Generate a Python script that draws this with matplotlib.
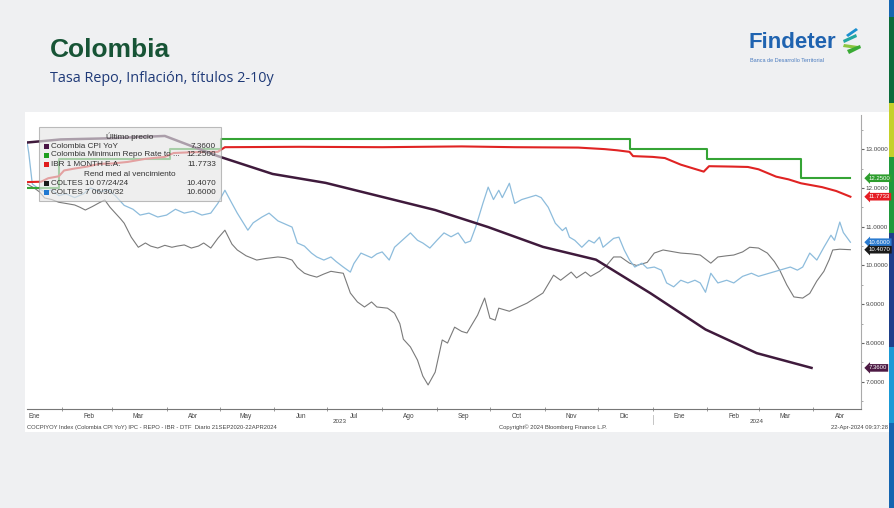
import matplotlib.pyplot as plt
import matplotlib.dates as mdates
import matplotlib.transforms as mtransforms
from matplotlib.patches import Rectangle, Polygon
from matplotlib.ticker import FuncFormatter, MultipleLocator, NullFormatter
import pandas as pd

plt.rcParams['font.family'] = ['Liberation Sans', 'DejaVu Sans']

# ---- datos ----
cpi_dates = ['2022-12-31', '2023-01-31', '2023-02-28', '2023-03-31', '2023-04-30',
             '2023-05-31', '2023-06-30', '2023-07-31', '2023-08-31', '2023-09-30',
             '2023-10-31', '2023-11-30', '2023-12-31', '2024-01-31', '2024-02-29',
             '2024-03-31']
cpi_vals = [13.12, 13.25, 13.28, 13.34, 12.82, 12.36, 12.13, 11.78, 11.43, 10.99,
            10.48, 10.15, 9.28, 8.35, 7.74, 7.36]

repo_dates = ['2023-01-12', '2023-01-30', '2023-04-03', '2023-05-02', '2023-12-19',
              '2024-02-01', '2024-03-25', '2024-04-22']
repo_vals = [12.00, 12.75, 13.00, 13.25, 13.00, 12.75, 12.25, 12.25]

ibr_dates = ['2023-01-12', '2023-01-20', '2023-01-24', '2023-01-30', '2023-02-02',
             '2023-02-08', '2023-02-15', '2023-02-22', '2023-03-01', '2023-03-10',
             '2023-03-20', '2023-03-31', '2023-04-05', '2023-04-15', '2023-04-30',
             '2023-05-04', '2023-06-15', '2023-08-01', '2023-09-15', '2023-10-15',
             '2023-11-20', '2023-12-05', '2023-12-12', '2023-12-19', '2023-12-21',
             '2024-01-01', '2024-01-08', '2024-01-17', '2024-01-30', '2024-02-02',
             '2024-02-15', '2024-02-24', '2024-03-01', '2024-03-11', '2024-03-18',
             '2024-03-25', '2024-04-06', '2024-04-14', '2024-04-22']
ibr_vals = [12.15, 12.16, 12.25, 12.30, 12.45, 12.50, 12.55, 12.62, 12.63, 12.67,
            12.75, 12.80, 12.90, 12.92, 12.93, 13.05, 13.06, 13.05, 13.07, 13.05,
            13.04, 13.00, 12.97, 12.93, 12.82, 12.80, 12.77, 12.60, 12.42, 12.56,
            12.55, 12.54, 12.48, 12.29, 12.22, 12.12, 12.02, 11.92, 11.7733]

c10_dates = ['2023-01-12', '2023-01-16', '2023-01-19', '2023-01-22', '2023-01-26',
             '2023-01-30', '2023-02-03', '2023-02-08', '2023-02-11', '2023-02-14',
             '2023-02-18', '2023-02-22', '2023-02-25', '2023-02-28', '2023-03-02',
             '2023-03-06', '2023-03-08', '2023-03-12', '2023-03-16', '2023-03-20',
             '2023-03-23', '2023-03-27', '2023-03-31', '2023-04-04', '2023-04-07',
             '2023-04-11', '2023-04-15', '2023-04-19', '2023-04-22', '2023-04-26',
             '2023-04-30', '2023-05-04', '2023-05-08', '2023-05-11', '2023-05-16',
             '2023-05-22', '2023-05-27', '2023-06-03', '2023-06-07', '2023-06-11',
             '2023-06-14', '2023-06-18', '2023-06-21', '2023-06-25', '2023-06-29',
             '2023-07-03', '2023-07-07', '2023-07-10', '2023-07-14', '2023-07-18',
             '2023-07-22', '2023-07-26', '2023-07-29', '2023-08-04', '2023-08-08',
             '2023-08-11', '2023-08-13', '2023-08-17', '2023-08-21', '2023-08-24',
             '2023-08-27', '2023-08-31', '2023-09-04', '2023-09-07', '2023-09-11',
             '2023-09-15', '2023-09-18', '2023-09-24', '2023-09-28', '2023-10-01',
             '2023-10-04', '2023-10-06', '2023-10-12', '2023-10-22', '2023-10-31',
             '2023-11-06', '2023-11-10', '2023-11-16', '2023-11-19', '2023-11-24',
             '2023-11-27', '2023-12-02', '2023-12-06', '2023-12-10', '2023-12-14',
             '2023-12-19', '2023-12-23', '2023-12-29', '2024-01-02', '2024-01-07',
             '2024-01-12', '2024-01-17', '2024-01-23', '2024-01-28', '2024-02-03',
             '2024-02-07', '2024-02-12', '2024-02-16', '2024-02-21', '2024-02-25',
             '2024-03-01', '2024-03-06', '2024-03-10', '2024-03-13', '2024-03-17',
             '2024-03-21', '2024-03-26', '2024-03-30', '2024-04-03', '2024-04-07',
             '2024-04-10', '2024-04-12', '2024-04-16', '2024-04-22']
c10_vals = [12.10, 12.00, 11.90, 11.74, 11.70, 11.63, 11.60, 11.56, 11.50, 11.43,
            11.52, 11.62, 11.69, 11.50, 11.40, 11.20, 11.09, 10.73, 10.47, 10.58,
            10.50, 10.45, 10.52, 10.47, 10.50, 10.53, 10.45, 10.50, 10.58, 10.45,
            10.70, 10.91, 10.55, 10.40, 10.25, 10.14, 10.18, 10.22, 10.20, 10.14,
            9.95, 9.80, 9.75, 9.70, 9.78, 9.85, 9.82, 9.80, 9.29, 9.06,
            8.93, 9.06, 8.93, 8.90, 8.77, 8.50, 8.10, 7.90, 7.56, 7.15,
            6.92, 7.25, 8.08, 8.00, 8.41, 8.30, 8.26, 8.72, 9.16, 8.64,
            8.59, 8.90, 8.82, 9.03, 9.29, 9.75, 9.62, 9.83, 9.68, 9.83,
            9.72, 9.85, 10.00, 10.22, 10.22, 10.06, 10.00, 10.08, 10.32, 10.40,
            10.36, 10.32, 10.30, 10.27, 10.06, 10.22, 10.25, 10.27, 10.35, 10.47,
            10.45, 10.32, 10.10, 9.88, 9.50, 9.19, 9.16, 9.28, 9.60, 9.85,
            10.15, 10.40, 10.42, 10.407]

c7_dates = ['2023-01-12', '2023-01-13', '2023-01-15', '2023-01-18', '2023-01-22',
            '2023-01-26', '2023-01-30', '2023-02-03', '2023-02-08', '2023-02-13',
            '2023-02-17', '2023-02-22', '2023-02-27', '2023-03-03', '2023-03-08',
            '2023-03-13', '2023-03-17', '2023-03-22', '2023-03-27', '2023-04-01',
            '2023-04-06', '2023-04-11', '2023-04-16', '2023-04-21', '2023-04-26',
            '2023-04-30', '2023-05-04', '2023-05-08', '2023-05-11', '2023-05-17',
            '2023-05-20', '2023-05-25', '2023-05-29', '2023-06-03', '2023-06-11',
            '2023-06-14', '2023-06-18', '2023-06-22', '2023-06-25', '2023-06-29',
            '2023-07-03', '2023-07-06', '2023-07-10', '2023-07-14', '2023-07-16',
            '2023-07-20', '2023-07-26', '2023-07-29', '2023-08-01', '2023-08-05',
            '2023-08-08', '2023-08-17', '2023-08-21', '2023-08-24', '2023-08-28',
            '2023-09-01', '2023-09-05', '2023-09-09', '2023-09-13', '2023-09-17',
            '2023-09-20', '2023-09-23', '2023-09-27', '2023-09-30', '2023-10-03',
            '2023-10-06', '2023-10-08', '2023-10-12', '2023-10-15', '2023-10-19',
            '2023-10-27', '2023-10-30', '2023-11-03', '2023-11-07', '2023-11-11',
            '2023-11-13', '2023-11-15', '2023-11-18', '2023-11-22', '2023-11-26',
            '2023-11-29', '2023-12-02', '2023-12-04', '2023-12-10', '2023-12-13',
            '2023-12-16', '2023-12-19', '2023-12-22', '2023-12-26', '2023-12-29',
            '2024-01-02', '2024-01-06', '2024-01-09', '2024-01-13', '2024-01-17',
            '2024-01-21', '2024-01-25', '2024-01-28', '2024-01-31', '2024-02-03',
            '2024-02-07', '2024-02-12', '2024-02-16', '2024-02-21', '2024-02-26',
            '2024-03-01', '2024-03-07', '2024-03-13', '2024-03-19', '2024-03-23',
            '2024-03-26', '2024-03-30', '2024-04-03', '2024-04-07', '2024-04-11',
            '2024-04-13', '2024-04-16', '2024-04-18', '2024-04-22']
c7_vals = [13.19, 12.90, 12.10, 12.00, 11.90, 11.95, 11.80, 11.85, 11.75, 11.85,
           12.00, 11.90, 11.95, 11.80, 11.55, 11.45, 11.30, 11.35, 11.25, 11.30,
           11.45, 11.35, 11.40, 11.30, 11.35, 11.60, 11.94, 11.60, 11.35, 10.91,
           11.10, 11.25, 11.35, 11.15, 10.99, 10.58, 10.50, 10.32, 10.22, 10.14,
           10.22, 10.10, 9.96, 9.83, 10.05, 10.32, 10.20, 10.30, 10.35, 10.14,
           10.47, 10.84, 10.65, 10.58, 10.45, 10.65, 10.84, 10.74, 10.84, 10.58,
           10.63, 11.00, 11.60, 12.02, 11.70, 11.94, 11.75, 12.12, 11.60, 11.70,
           11.81, 11.75, 11.50, 11.09, 10.90, 10.98, 10.73, 10.65, 10.47, 10.65,
           10.58, 10.73, 10.47, 10.70, 10.73, 10.40, 10.14, 9.96, 10.06, 9.93,
           9.96, 9.88, 9.55, 9.45, 9.62, 9.55, 9.62, 9.55, 9.31, 9.80,
           9.55, 9.62, 9.55, 9.72, 9.80, 9.72, 9.80, 9.88, 9.96, 9.88,
           9.96, 10.32, 10.14, 10.47, 10.78, 10.65, 11.12, 10.85, 10.60]

meses = ['Ene', 'Feb', 'Mar', 'Abr', 'May', 'Jun', 'Jul', 'Ago', 'Sep', 'Oct', 'Nov', 'Dic']

W, H = 895, 508
fig = plt.figure(figsize=(W / 100, H / 100), dpi=100)
fig.patch.set_facecolor('#eff0f2')


def fx(px):
    return px / W


def fy(py):
    return 1 - py / H


# panel blanco del grafico
fig.patches.append(Rectangle((fx(25), fy(432)), fx(889) - fx(25), fy(112) - fy(432),
                             transform=fig.transFigure, facecolor='white',
                             edgecolor='none', zorder=-10))

# franja de colores a la derecha
strip = [(0, 17, '#1565b0'), (17, 103, '#0a6b3a'), (103, 157, '#c5d12a'),
         (157, 233, '#1f9a3c'), (233, 347, '#1d3f8a'), (347, 423, '#1a9ad6'),
         (423, 508, '#1565b0')]
for y0, y1, c in strip:
    fig.patches.append(Rectangle((fx(889), fy(y1)), fx(895) - fx(889), fy(y0) - fy(y1),
                                 transform=fig.transFigure, facecolor=c,
                                 edgecolor='none', zorder=-10))

# titulos
fig.text(fx(50), fy(50), 'Colombia', fontsize=19, fontweight='bold', color='#175436',
         va='center', ha='left')
fig.text(fx(50), fy(79), 'Tasa Repo, Inflación, títulos 2-10y', fontsize=10.4,
         color='#1f3a78', va='center', ha='left', family=['Open Sans', 'DejaVu Sans'])

# logo Findeter
fig.text(fx(749), fy(43), 'Findeter', fontsize=16, fontweight='bold', color='#1f63b0',
         va='center', ha='left')
fig.text(fx(750), fy(60), 'Banca de Desarrollo Territorial', fontsize=4, color='#4a7bbf',
         va='center', ha='left')
icon = [([(846, 35), (856, 28), (858, 30), (848, 37)], '#1a8fd0'),
        ([(843, 40), (856, 34), (857, 37), (844, 43)], '#22a6a0'),
        ([(844, 44), (858, 46), (857, 49), (843, 47)], '#8cc63f'),
        ([(847, 50), (860, 45), (861, 48), (849, 54)], '#3aaa35')]
for pts, c in icon:
    fig.patches.append(Polygon([(fx(a), fy(b)) for a, b in pts], closed=True,
                               transform=fig.transFigure, facecolor=c, edgecolor='none'))

# ---- ejes ----
ax = fig.add_axes([fx(27), fy(409), fx(861) - fx(27), fy(115) - fy(409)])
ax.set_zorder(5)
ax.set_facecolor('white')

d = pd.to_datetime
ax.plot(d(c10_dates), c10_vals, color='#7a7a7a', lw=0.8, zorder=2)
ax.plot(d(c7_dates), c7_vals, color='#8dbcdc', lw=0.9, zorder=2)
ax.plot(d(repo_dates), repo_vals, color='#35a435', lw=1.5, drawstyle='steps-post', zorder=3)
ax.plot(d(ibr_dates), ibr_vals, color='#e02323', lw=1.5, zorder=3)
ax.plot(d(cpi_dates), cpi_vals, color='#3f1a3c', lw=1.8, zorder=4)

ax.set_xlim(pd.Timestamp('2023-01-12'), pd.Timestamp('2024-04-28'))
ax.set_ylim(6.3, 13.88)

for s in ['top', 'left']:
    ax.spines[s].set_visible(False)
ax.spines['bottom'].set_color('#777777')
ax.spines['right'].set_color('#aaaaaa')
ax.spines['bottom'].set_linewidth(0.8)
ax.spines['right'].set_linewidth(0.8)

ax.yaxis.tick_right()
ax.yaxis.set_major_locator(MultipleLocator(1))
ax.yaxis.set_minor_locator(MultipleLocator(0.5))
ax.yaxis.set_major_formatter(FuncFormatter(lambda v, p: f'{v:.4f}'))
ax.tick_params(axis='y', which='major', length=2.5, width=0.8, color='#666666',
               labelsize=4.5, labelcolor='#444444', pad=1)
ax.tick_params(axis='y', which='minor', length=1.5, width=0.6, color='#999999')

ax.xaxis.set_major_locator(mdates.MonthLocator())
ax.xaxis.set_major_formatter(NullFormatter())
ax.xaxis.set_minor_locator(mdates.MonthLocator(bymonthday=16))
ax.xaxis.set_minor_formatter(FuncFormatter(lambda v, p: meses[mdates.num2date(v).month - 1]))
ax.tick_params(axis='x', which='major', length=2.5, width=0.6, color='#888888',
               direction='inout')
ax.tick_params(axis='x', which='minor', length=0, labelsize=4.7, labelcolor='#444444',
               pad=3)

# años y separador
blend = mtransforms.blended_transform_factory(ax.transData, ax.transAxes)
x0, x1 = ax.get_xlim()
ylim_mid = mdates.date2num(pd.Timestamp('2024-01-01'))
ax.text((x0 + ylim_mid) / 2, -0.035, '2023', transform=blend, fontsize=4.5,
        color='#444444', ha='center', va='top')
ax.text((ylim_mid + x1) / 2, -0.035, '2024', transform=blend, fontsize=4.5,
        color='#444444', ha='center', va='top')
ax.plot([ylim_mid, ylim_mid], [-0.02, -0.05], transform=blend, color='#bbbbbb', lw=0.6,
        clip_on=False)

# etiquetas de ultimo valor a la derecha
last = [(repo_vals[-1], '#2e9e2e'), (ibr_vals[-1], '#e51c23'), (c7_vals[-1], '#2b7bd0'),
        (c10_vals[-1], '#1a1a1a'), (cpi_vals[-1], '#4d1a44')]
blend_y = mtransforms.blended_transform_factory(ax.transAxes, ax.transData)
for v, c in last:
    ax.text(1.009, v, f'{v:.4f}', transform=blend_y, fontsize=4.3, color='white',
            ha='left', va='center', clip_on=False,
            bbox=dict(boxstyle='larrow,pad=0.22', fc=c, ec='none'))

# leyenda
def axf(px):
    return (px - 27) / 834


def ayf(py):
    return (409 - py) / 294


ax.add_patch(Rectangle((axf(39), ayf(201)), axf(221) - axf(39), ayf(127) - ayf(201),
                       transform=ax.transAxes, facecolor='#e6e6e6', alpha=0.65,
                       edgecolor='#9a9a9a', lw=0.8, zorder=6))
leg_fs = 5.9
ax.text(axf(130), ayf(136.5), 'Último precio', transform=ax.transAxes, fontsize=leg_fs,
        color='#333333', ha='center', va='center', zorder=7)
ax.text(axf(130), ayf(174), 'Rend med al vencimiento', transform=ax.transAxes,
        fontsize=leg_fs, color='#333333', ha='center', va='center', zorder=7)
names = ['Colombia CPI YoY', 'Colombia Minimum Repo Rate to ...', 'IBR 1 MONTH E.A.',
         'COLTES 10 07/24/24', 'COLTES 7 06/30/32']
vals = [cpi_vals[-1], repo_vals[-1], ibr_vals[-1], c10_vals[-1], c7_vals[-1]]
cols = ['#4a1446', '#1e9e1e', '#e01b1b', '#1a1a1a', '#1f78d1']
rows = [146, 155, 164.3, 183.3, 192.5]
for n, v, c, r in zip(names, vals, cols, rows):
    ax.add_patch(Rectangle((axf(44), ayf(r + 2.5)), axf(49) - axf(44), ayf(r - 2.5) - ayf(r + 2.5),
                           transform=ax.transAxes, facecolor=c, edgecolor='none', zorder=7))
    ax.text(axf(51), ayf(r), n, transform=ax.transAxes, fontsize=leg_fs, color='#333333',
            ha='left', va='center', zorder=7)
    ax.text(axf(216), ayf(r), f'{v:.4f}', transform=ax.transAxes, fontsize=leg_fs,
            color='#333333', ha='right', va='center', zorder=7)

# pie de grafico
fig.text(fx(27), fy(427), 'COCPIYOY Index (Colombia CPI YoY) IPC - REPO - IBR - DTF  Diario 21SEP2020-22APR2024',
         fontsize=4.2, color='#444444', ha='left', va='center')
fig.text(fx(553), fy(427), 'Copyright© 2024 Bloomberg Finance L.P.', fontsize=4.2,
         color='#444444', ha='center', va='center')
fig.text(fx(888), fy(427), '22-Apr-2024 09:37:28', fontsize=4.2, color='#444444',
         ha='right', va='center')

fig.savefig('out.png', dpi=100, facecolor=fig.get_facecolor())
